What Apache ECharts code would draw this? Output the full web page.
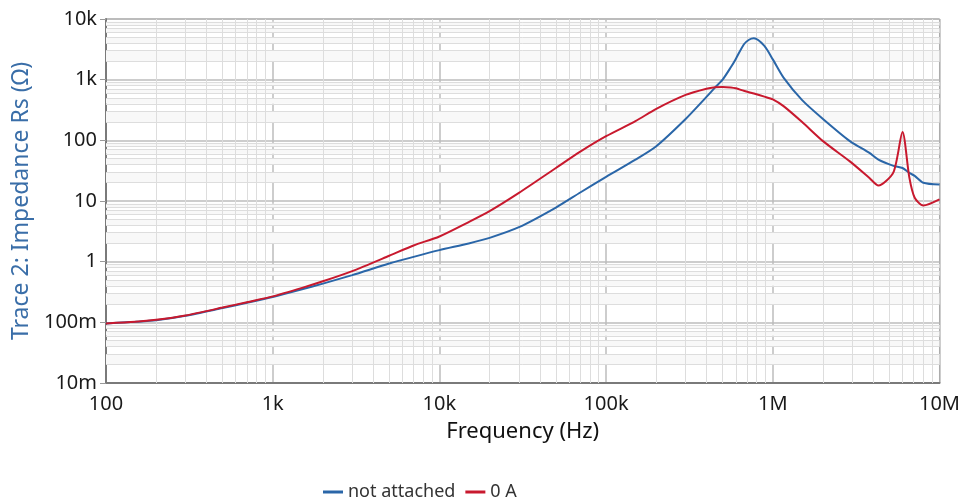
<!DOCTYPE html>
<html>
<head>
<meta charset="utf-8">
<script src="https://cdn.jsdelivr.net/npm/echarts@6/dist/echarts.min.js"></script>
<style>
  html, body { margin: 0; padding: 0; background: #fff; }
  #chart { width: 963px; height: 499px; }
</style>
</head>
<body>
<div id="chart"></div>
<script>
// frequency points (Hz)
const freqs = [
  100, 150, 200, 300, 500, 700, 1e3, 1.5e3, 2e3, 3e3, 5e3, 7e3, 1e4, 1.5e4, 2e4, 3e4,
  5e4, 7e4, 1e5, 1.5e5, 2e5, 3e5, 4e5, 4.5e5, 5e5, 5.6e5, 6e5, 6.7e5, 7.2e5, 7.7e5, 8.9e5,
  1e6, 1.16e6, 1.5e6, 2e6, 2.9e6, 3.8e6, 4.3e6, 5.3e6, 6e6, 6.6e6, 7.1e6, 8e6, 1e7
];
// impedance Rs (ohm)
const notAttached = [
  0.096, 0.102, 0.108, 0.128, 0.172, 0.21, 0.262, 0.35, 0.435, 0.6, 0.93, 1.2, 1.55, 2.0, 2.47, 3.7,
  7.8, 13.8, 25, 48, 80, 225, 520, 740, 1000, 1600, 2200, 3800, 4550, 4800, 3600,
  2160, 1080, 460, 225, 97, 62, 48, 38, 35, 29, 26, 20, 18.7
];
const zeroA = [
  0.096, 0.102, 0.11, 0.13, 0.175, 0.215, 0.268, 0.37, 0.475, 0.7, 1.25, 1.85, 2.6, 4.5, 6.8, 13.6,
  35, 65, 117, 207, 330, 560, 710, 750, 760, 745, 720, 655, 620, 590, 525,
  473, 366, 200, 97, 45, 24, 18, 30, 137, 24, 11.3, 8.4, 10.6
];

const xTickLabels = { 100: "100", 1000: "1k", 10000: "10k", 100000: "100k", 1000000: "1M", 10000000: "10M" };
const yTickLabels = { 0.01: "10m", 0.1: "100m", 1: "1", 10: "10", 100: "100", 1000: "1k", 10000: "10k" };

const xDecades = [100, 1e3, 1e4, 1e5, 1e6];
const yDecades = [0.01, 0.1, 1, 10, 100, 1000];
const minorSteps = [2, 3, 4, 5, 6, 7, 8, 9];
const bandSteps = [[2, 3], [4, 5], [6, 7], [8, 9]];

const minorX = [];
xDecades.forEach((d) => minorSteps.forEach((m) => minorX.push({ xAxis: d * m })));
const minorY = [];
yDecades.forEach((d) => minorSteps.forEach((m) => minorY.push({ yAxis: +(d * m).toPrecision(3) })));
const bands = [];
yDecades.forEach((d) => bandSteps.forEach(([a, b]) => bands.push([
  { yAxis: +(d * a).toPrecision(3) }, { yAxis: +(d * b).toPrecision(3) }
])));

const FONT = "Noto Sans";
const chart = echarts.init(document.getElementById("chart"));

chart.setOption({
  animation: false,
  textStyle: { fontFamily: FONT },
  grid: { left: 106, right: 22, top: 19, bottom: 116, show: true, borderColor: "#7a7a7a", borderWidth: 1 },
  legend: {
    left: 318,
    top: 478,
    itemWidth: 20,
    itemHeight: 3,
    itemGap: 10,
    icon: "rect",
    textStyle: { fontFamily: FONT, fontSize: 18, color: "#333" },
    data: ["not attached", "0 A"]
  },
  xAxis: {
    type: "log",
    logBase: 10,
    min: 100,
    max: 1e7,
    name: "Frequency (Hz)",
    nameLocation: "middle",
    nameGap: 38,
    nameTextStyle: { fontFamily: FONT, fontSize: 22, color: "#111" },
    axisLine: { show: true, lineStyle: { color: "#7a7a7a", width: 2 } },
    axisTick: { show: false },
    axisLabel: {
      fontSize: 20,
      color: "#1a1a1a",
      margin: 11,
      formatter: (v) => xTickLabels[Math.round(v)] || ""
    },
    splitLine: { show: true, lineStyle: { color: "#bdbdbd", width: 1.5 } }
  },
  yAxis: {
    type: "log",
    logBase: 10,
    min: 0.01,
    max: 10000,
    name: "Trace 2: Impedance Rs (Ω)",
    nameLocation: "middle",
    nameGap: 72,
    nameTextStyle: { fontFamily: FONT, fontSize: 23, color: "#3a6ea8" },
    axisLine: { show: true, lineStyle: { color: "#7a7a7a", width: 2 } },
    axisTick: { show: true, length: 6, lineStyle: { color: "#999" } },
    axisLabel: {
      fontSize: 20,
      color: "#1a1a1a",
      margin: 9,
      formatter: (v) => yTickLabels[+v.toPrecision(3)] || ""
    },
    splitLine: { show: true, lineStyle: { color: "#bdbdbd", width: 1.5 } }
  },
  series: [
    {
      // minor grid + faint bands, kept under the curves
      name: "grid",
      type: "line",
      data: [],
      silent: true,
      z: 1,
      markArea: {
        silent: true,
        z: 1,
        itemStyle: { color: "#f8f8f8" },
        data: bands
      },
      markLine: {
        silent: true,
        z: 1,
        symbol: "none",
        label: { show: false },
        lineStyle: { color: "#dddddd", width: 1, type: "solid" },
        data: minorX.concat(minorY)
      }
    },
    {
      name: "not attached",
      type: "line",
      data: freqs.map((f, i) => [f, notAttached[i]]),
      showSymbol: false,
      smooth: 0.25,
      color: "#2a66a8",
      lineStyle: { width: 2, color: "#2a66a8" },
      z: 3
    },
    {
      name: "0 A",
      type: "line",
      data: freqs.map((f, i) => [f, zeroA[i]]),
      showSymbol: false,
      smooth: 0.25,
      color: "#c8192e",
      lineStyle: { width: 2, color: "#c8192e" },
      z: 4
    }
  ]
});
</script>
</body>
</html>
